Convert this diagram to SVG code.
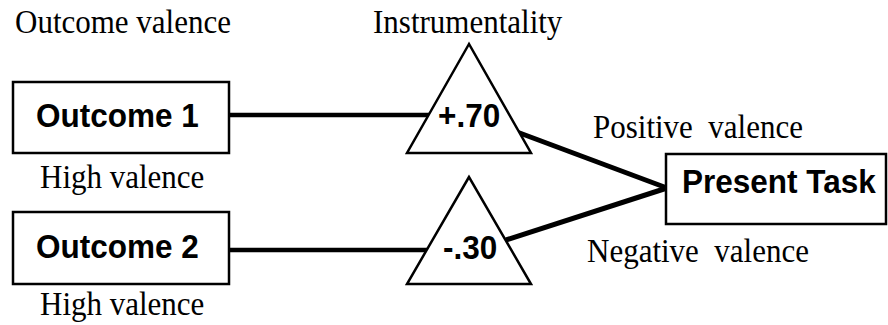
<svg xmlns="http://www.w3.org/2000/svg" width="888" height="325" viewBox="0 0 888 325">
<style>
.box{fill:#fff;stroke:#000;stroke-width:2.5}
.tri{fill:#fff;stroke:#000;stroke-width:2.5;stroke-linejoin:miter}
.lbl{font-family:"Liberation Sans",Arial,sans-serif;font-weight:bold;font-size:31.5px;fill:#000}
.cap{font-family:"Liberation Serif","Times New Roman",serif;font-size:31px;fill:#000;white-space:pre}
.conn{stroke:#000;fill:none}
</style>
<rect width="888" height="325" fill="#fff"/>
<g id="connectors">
<line class="conn" x1="229" y1="115" x2="432" y2="115" stroke-width="4.5"/>
<line class="conn" x1="229" y1="250" x2="429" y2="250" stroke-width="4.5"/>
<line class="conn" x1="517" y1="132" x2="667" y2="188" stroke-width="5"/>
<line class="conn" x1="506" y1="240" x2="667" y2="188" stroke-width="5"/>
</g>
<g id="outcome1">
<rect class="box" x="13" y="82" width="216" height="71"/>
<text class="lbl" transform="translate(36 127) scale(1 1.08)">Outcome 1</text>
<text class="cap" transform="translate(40 188) scale(1 1.07)">High valence</text>
</g>
<g id="outcome2">
<rect class="box" x="13" y="212" width="216" height="72"/>
<text class="lbl" transform="translate(36 258) scale(1 1.08)">Outcome 2</text>
<text class="cap" transform="translate(40 315) scale(1 1.07)">High valence</text>
</g>
<g id="instr1">
<polygon class="tri" points="469,44 407,153 531,153"/>
<text class="lbl" transform="translate(438 127) scale(1 1.08)">+.70</text>
</g>
<g id="instr2">
<polygon class="tri" points="469,177 407,284 531,284"/>
<text class="lbl" transform="translate(443 259) scale(1 1.08)">-.30</text>
</g>
<g id="present">
<rect class="box" x="666" y="154" width="220" height="70"/>
<text class="lbl" transform="translate(682 193) scale(1 1.08)">Present Task</text>
</g>
<g id="captions">
<text class="cap" transform="translate(15 33) scale(1 1.07)">Outcome valence</text>
<text class="cap" transform="translate(373 33) scale(1 1.07)">Instrumentality</text>
<text class="cap" transform="translate(593 138) scale(1 1.07)">Positive  valence</text>
<text class="cap" transform="translate(587 262) scale(1 1.07)">Negative  valence</text>
</g>
</svg>
